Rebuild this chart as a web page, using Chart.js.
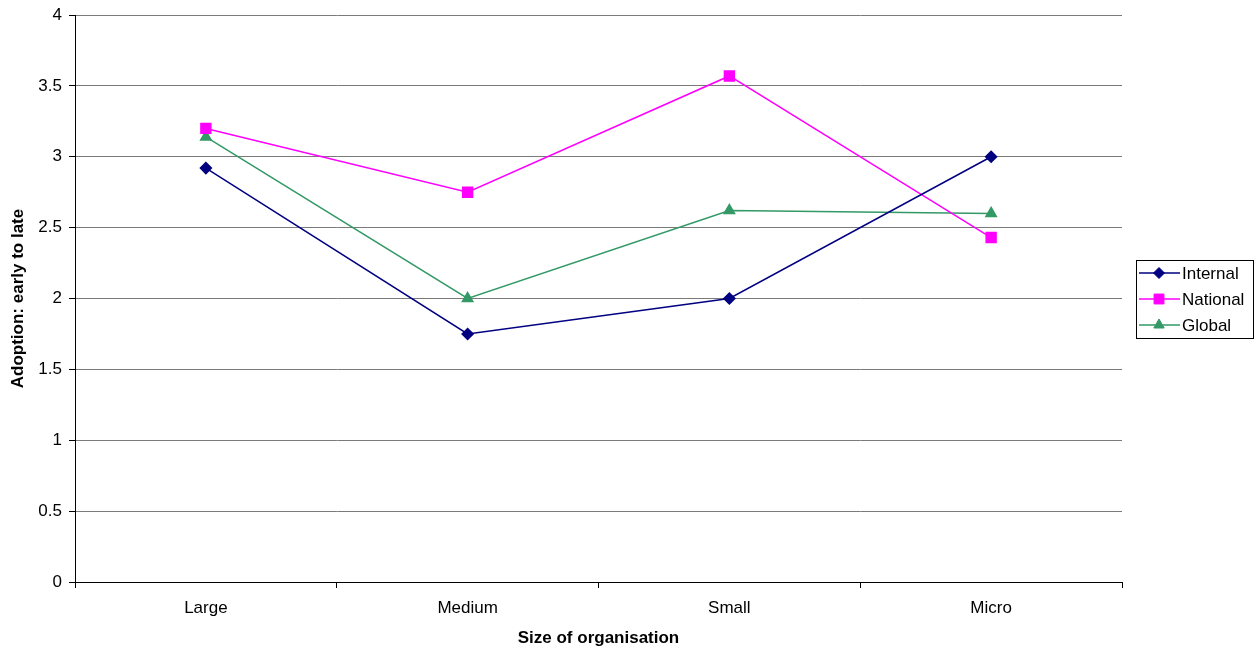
<!DOCTYPE html>
<html>
<head>
<meta charset="utf-8">
<script src="https://cdn.jsdelivr.net/npm/chart.js@4.4.0/dist/chart.umd.min.js"></script>
<style>
  html, body { margin: 0; padding: 0; background: #fff; }
  #wrap { position: relative; width: 1255px; height: 649px; }
</style>
</head>
<body>
<div id="wrap"><canvas id="adoptionChart" width="1255" height="649"></canvas></div>
<script>
// categories and values
const categories = ['Large', 'Medium', 'Small', 'Micro'];
const internalValues = [2.92, 1.75, 2.0, 3.0];
const nationalValues = [3.2, 2.75, 3.57, 2.43];
const globalValues = [3.14, 2.0, 2.62, 2.6];
const yTicks = [0, 0.5, 1, 1.5, 2, 2.5, 3, 3.5, 4];

const FONT = "'Liberation Sans', Arial, sans-serif";
const FONT_SIZE = 17;

// legend box on the right, drawn by hand like the old office style
const boxLegend = {
    id: 'boxLegend',
    afterDraw(chart) {
        const ctx = chart.ctx;
        const x = 1136, y = 260, w = 117, h = 78;
        ctx.save();
        ctx.strokeStyle = '#000';
        ctx.lineWidth = 1;
        ctx.strokeRect(x + 0.5, y + 0.5, w, h);
        ctx.font = FONT_SIZE + 'px ' + FONT;
        ctx.textBaseline = 'middle';
        chart.data.datasets.forEach((ds, i) => {
            const ly = y + 13 + i * 26;
            ctx.strokeStyle = ds.borderColor;
            ctx.lineWidth = 1.5;
            ctx.beginPath();
            ctx.moveTo(x + 3, ly);
            ctx.lineTo(x + 44, ly);
            ctx.stroke();
            ctx.fillStyle = ds.borderColor;
            ctx.lineWidth = 1;
            Chart.helpers.drawPoint(ctx, { pointStyle: ds.pointStyle, radius: ds.pointRadius, borderWidth: 1 }, x + 23, ly);
            ctx.fillStyle = '#000';
            ctx.fillText(ds.label, x + 46, ly + 1);
        });
        ctx.restore();
    }
};

const ctx = document.getElementById('adoptionChart').getContext('2d');

new Chart(ctx, {
    type: 'line',
    data: {
        labels: categories,
        datasets: [
            {
                label: 'Internal',
                data: internalValues,
                borderColor: '#000080',
                backgroundColor: '#000080',
                borderWidth: 1.5,
                pointStyle: 'rectRot',
                pointRadius: 5.5,
                pointHoverRadius: 5.5
            },
            {
                label: 'National',
                data: nationalValues,
                borderColor: '#FF00FF',
                backgroundColor: '#FF00FF',
                borderWidth: 1.5,
                pointStyle: 'rect',
                pointRadius: 7,
                pointHoverRadius: 7
            },
            {
                label: 'Global',
                data: globalValues,
                borderColor: '#339966',
                backgroundColor: '#339966',
                borderWidth: 1.5,
                pointStyle: 'triangle',
                pointRadius: 6,
                pointHoverRadius: 6
            }
        ]
    },
    options: {
        responsive: false,
        animation: false,
        layout: { padding: { top: 15, right: 133, left: 0, bottom: 0 } },
        plugins: {
            legend: { display: false },
            tooltip: { enabled: false }
        },
        scales: {
            x: {
                offset: true,
                grid: {
                    offset: true,
                    drawOnChartArea: false,
                    drawTicks: true,
                    tickLength: 6,
                    color: '#000'
                },
                border: { color: '#000', width: 1 },
                ticks: {
                    color: '#000',
                    font: { family: FONT, size: FONT_SIZE },
                    padding: 10,
                    maxRotation: 0
                },
                title: {
                    display: true,
                    text: 'Size of organisation',
                    color: '#000',
                    font: { family: FONT, size: FONT_SIZE, weight: 'bold' },
                    padding: { top: 0, bottom: 0 }
                },
                afterFit(scale) {
                    scale.height = 67;
                    scale.paddingLeft = 0;
                    scale.paddingRight = 0;
                }
            },
            y: {
                min: 0,
                max: 4,
                afterBuildTicks(scale) {
                    scale.ticks = yTicks.map(v => ({ value: v }));
                },
                grid: {
                    color: '#7a7a7a',
                    lineWidth: 1,
                    tickLength: 6,
                    tickColor: '#000'
                },
                border: { color: '#000', width: 1 },
                ticks: {
                    color: '#000',
                    font: { family: FONT, size: FONT_SIZE },
                    padding: 7,
                    callback: v => String(v)
                },
                title: {
                    display: true,
                    text: 'Adoption: early to late',
                    color: '#000',
                    font: { family: FONT, size: FONT_SIZE, weight: 'bold' },
                    padding: { top: 8, bottom: 0 }
                },
                afterFit(scale) {
                    scale.width = 75;
                    scale.paddingTop = 0;
                    scale.paddingBottom = 0;
                }
            }
        }
    },
    plugins: [boxLegend]
});
</script>
</body>
</html>
